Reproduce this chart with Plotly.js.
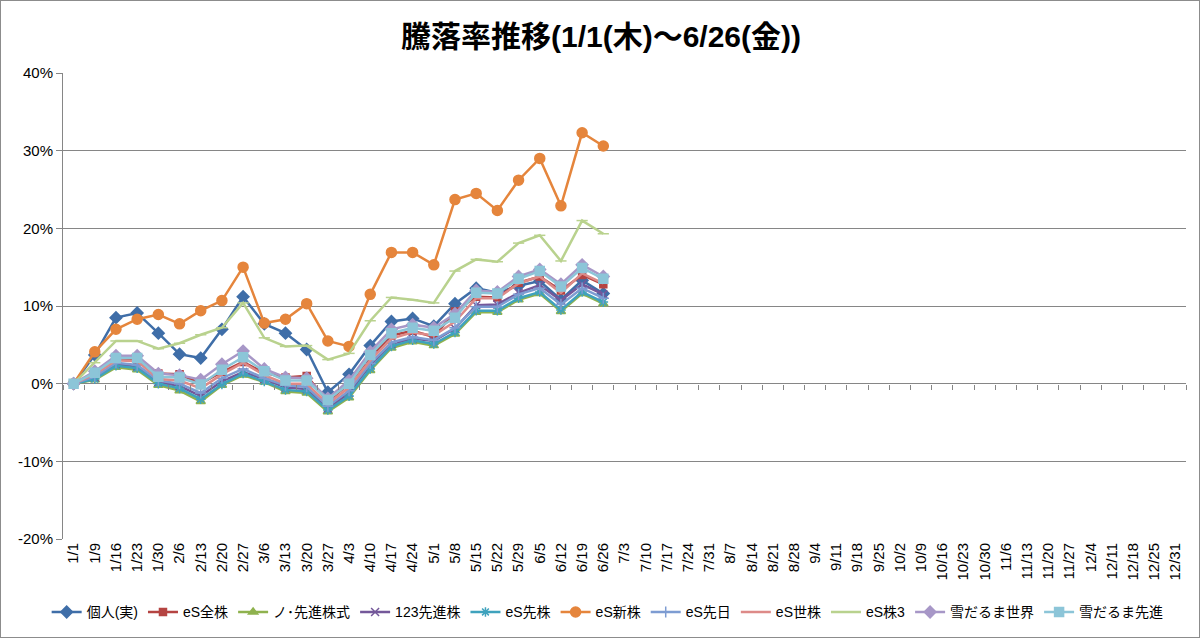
<!DOCTYPE html>
<html>
<head>
<meta charset="utf-8">
<script src="https://cdn.plot.ly/plotly-3.0.1.min.js"></script>
<style>
  html, body { margin: 0; padding: 0; background: #fff; }
  #chart { width: 1200px; height: 638px; box-sizing: border-box; border: 1px solid #8c8c8c; }
</style>
</head>
<body>
<div id="chart"></div>
<script>
// Weekly dates for the whole year (only the first half has values)
var dates = [
    "1/1", "1/9", "1/16", "1/23", "1/30", "2/6", "2/13", "2/20", "2/27",
    "3/6", "3/13", "3/20", "3/27", "4/3", "4/10", "4/17", "4/24",
    "5/1", "5/8", "5/15", "5/22", "5/29", "6/5", "6/12", "6/19", "6/26",
    "7/3", "7/10", "7/17", "7/24", "7/31", "8/7", "8/14", "8/21", "8/28",
    "9/4", "9/11", "9/18", "9/25", "10/2", "10/9", "10/16", "10/23", "10/30",
    "11/6", "11/13", "11/20", "11/27", "12/4", "12/11", "12/18", "12/25", "12/31"
];

// Return rates (%) from 1/1 to 6/26
var kojin      = [0, 3.7, 8.5, 9.1, 6.5, 3.8, 3.3, 7.0, 11.2, 7.7, 6.5, 4.4, -1.1, 1.2, 4.9, 8.0, 8.4, 7.4, 10.3, 12.3, 11.7, 12.6, 13.2, 10.8, 13.3, 11.6];
var esZenkabu  = [0, 1.3, 3.2, 3.0, 1.3, 1.2, 0.0, 1.5, 2.8, 1.4, 0.8, 1.0, -2.3, 0.0, 3.4, 6.2, 6.8, 6.0, 9.3, 11.2, 11.1, 13.0, 13.8, 12.0, 14.0, 12.8];
var noSenshin  = [0, 0.5, 2.1, 1.8, -0.2, -0.9, -2.3, -0.2, 1.1, 0.2, -1.0, -1.2, -3.6, -1.8, 1.7, 4.6, 5.4, 4.9, 6.4, 9.2, 9.2, 10.8, 11.6, 9.3, 11.6, 10.3];
var senshin123 = [0, 0.8, 2.5, 2.2, 0.2, -0.3, -1.6, 0.3, 1.5, 0.6, -0.5, -0.7, -3.2, -1.2, 2.4, 5.1, 5.8, 5.5, 7.1, 10.1, 10.2, 11.7, 12.7, 10.7, 12.8, 11.5];
var esSenkabu  = [0, 0.6, 2.3, 2.0, 0.0, -0.6, -2.0, -0.1, 1.3, 0.3, -0.8, -1.0, -3.4, -1.6, 1.9, 4.8, 5.6, 5.1, 6.6, 9.4, 9.4, 11.0, 11.8, 9.5, 11.8, 10.5];
var esShinkabu = [0, 4.1, 7.0, 8.3, 8.9, 7.7, 9.4, 10.7, 15.0, 7.8, 8.3, 10.3, 5.5, 4.8, 11.5, 16.9, 16.9, 15.3, 23.7, 24.5, 22.3, 26.2, 29.0, 22.9, 32.3, 30.6];
var esSennichi = [0, 0.9, 2.7, 2.4, 0.4, 0.0, -1.2, 0.7, 1.9, 0.7, -0.2, -0.4, -2.9, -0.9, 2.6, 5.3, 6.0, 5.6, 7.2, 9.9, 9.9, 11.5, 12.3, 10.2, 12.3, 11.0];
var esSekabu   = [0, 1.2, 3.0, 2.9, 0.6, 0.4, -0.6, 1.2, 2.7, 1.1, 0.0, 0.0, -2.6, -0.5, 3.0, 5.8, 6.6, 6.2, 8.0, 11.0, 11.0, 12.9, 13.8, 11.7, 14.2, 12.9];
var esKabu3    = [0, 2.7, 5.5, 5.5, 4.5, 5.2, 6.3, 7.2, 10.4, 5.9, 4.8, 4.9, 3.1, 3.9, 8.1, 11.1, 10.8, 10.4, 14.5, 16.0, 15.7, 18.1, 19.1, 15.8, 21.0, 19.3];
var yukiSekai  = [0, 1.6, 3.6, 3.6, 1.3, 1.1, 0.5, 2.5, 4.2, 1.9, 0.8, 0.7, -1.9, 0.4, 4.1, 7.0, 7.6, 7.2, 9.0, 12.0, 11.8, 13.8, 14.7, 12.8, 15.3, 13.8];
var yukiSenshin = [0, 1.4, 3.3, 3.3, 0.9, 0.8, -0.1, 1.8, 3.4, 1.6, 0.4, 0.4, -2.1, 0.0, 3.7, 6.5, 7.2, 6.8, 8.5, 11.7, 11.6, 13.5, 14.5, 12.5, 14.9, 13.5];

var yTicks = [-20, -10, 0, 10, 20, 30, 40];

var fontFamily = "'Liberation Sans', 'Noto Sans CJK JP', sans-serif";

// name, values, color, marker symbol, marker size
var seriesList = [
    ["個人(実)", kojin, "#3f6ea8", "diamond", 9],
    ["eS全株", esZenkabu, "#b54442", "square", 7],
    ["ノ･先進株式", noSenshin, "#8fb24e", "triangle-up", 8],
    ["123先進株", senshin123, "#74589a", "x-thin-open", 8],
    ["eS先株", esSenkabu, "#3fa2bd", "asterisk-open", 8],
    ["eS新株", esShinkabu, "#e5853c", "circle", 10],
    ["eS先日", esSennichi, "#7d9cd2", "cross-thin-open", 8],
    ["eS世株", esSekabu, "#dd8a88", null, 0],
    ["eS株3", esKabu3, "#b9d28e", "line-ew-open", 8],
    ["雪だるま世界", yukiSekai, "#a797c7", "diamond", 9],
    ["雪だるま先進", yukiSenshin, "#8cc5d8", "square", 9]
];

var traces = seriesList.map(function (s) {
    var trace = {
        name: s[0],
        type: "scatter",
        mode: s[3] ? "lines+markers" : "lines",
        x: dates.slice(0, s[1].length),
        y: s[1],
        line: { color: s[2], width: 2.5 },
        hoverinfo: "skip"
    };
    if (s[3]) {
        trace.marker = { symbol: s[3], size: s[4], color: s[2], line: { color: s[2], width: 1.5 } };
    }
    return trace;
});

// Empty trace on the second x axis, used only for tick marks on the zero line
traces.push({
    type: "scatter",
    mode: "lines",
    x: dates,
    y: dates.map(function () { return null; }),
    xaxis: "x2",
    showlegend: false,
    hoverinfo: "skip"
});

var layout = {
    width: 1200,
    height: 638,
    margin: { l: 62, r: 15, t: 72, b: 99 },
    paper_bgcolor: "rgba(0,0,0,0)",
    plot_bgcolor: "#fff",
    showlegend: true,
    hovermode: false,
    title: {
        text: "<b>騰落率推移(1/1(木)～6/26(金))</b>",
        x: 0.5,
        xanchor: "center",
        y: 0.945,
        yanchor: "middle",
        font: { family: fontFamily, size: 30, color: "#000" }
    },
    xaxis: {
        type: "category",
        categoryorder: "array",
        categoryarray: dates,
        range: [-0.5, dates.length - 0.5],
        tickangle: -90,
        ticks: "",
        showgrid: false,
        showline: false,
        zeroline: false,
        tickfont: { family: fontFamily, size: 15, color: "#000" }
    },
    xaxis2: {
        type: "category",
        categoryorder: "array",
        categoryarray: dates,
        range: [-0.5, dates.length - 0.5],
        overlaying: "x",
        anchor: "free",
        position: 1 / 3,
        side: "bottom",
        tickson: "boundaries",
        ticks: "outside",
        ticklen: 5,
        tickcolor: "#868686",
        showticklabels: false,
        showgrid: false,
        showline: false,
        zeroline: false
    },
    yaxis: {
        range: [-20, 40],
        tickvals: yTicks,
        ticktext: yTicks.map(function (v) { return v + "%"; }),
        ticks: "outside",
        ticklen: 6,
        tickcolor: "#868686",
        showline: true,
        linecolor: "#868686",
        linewidth: 1,
        showgrid: true,
        gridcolor: "#868686",
        gridwidth: 1,
        zeroline: true,
        zerolinecolor: "#868686",
        zerolinewidth: 1,
        tickfont: { family: fontFamily, size: 15, color: "#000" }
    },
    legend: {
        orientation: "h",
        x: 0.485,
        xanchor: "center",
        y: -0.155,
        yanchor: "middle",
        font: { family: fontFamily, size: 14, color: "#000" },
        itemwidth: 30,
        tracegroupgap: 0
    }
};

Plotly.newPlot("chart", traces, layout, { displayModeBar: false, staticPlot: true });
</script>
</body>
</html>
